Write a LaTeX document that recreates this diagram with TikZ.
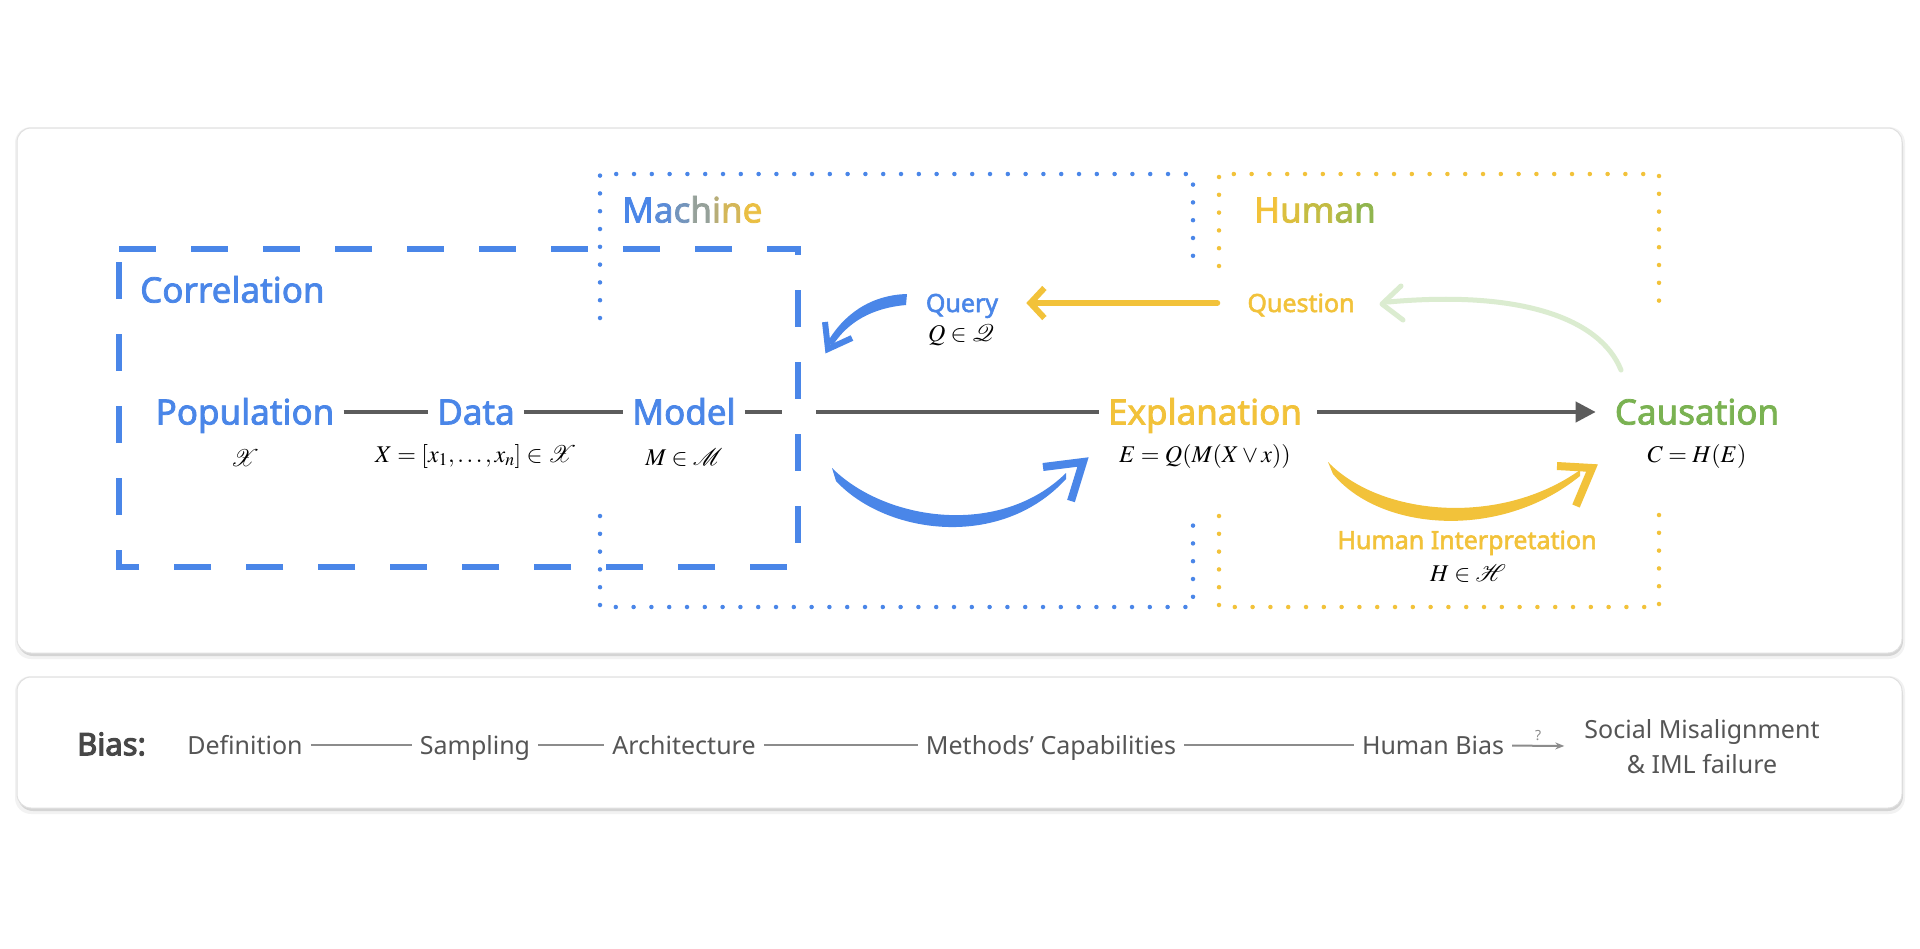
\documentclass[tikz,border=0pt]{standalone}
\usepackage{mathptmx}
\usepackage[no-math]{fontspec}
\setmainfont{Noto Sans}
\newfontfamily\labfont[FakeBold=2.2]{Noto Sans}
\newfontfamily\biasfont[FakeBold=3.5]{Noto Sans}
\usetikzlibrary{arrows.meta}
\definecolor{mblue}{RGB}{74,134,232}
\definecolor{myel}{RGB}{242,194,58}
\definecolor{mgreen}{RGB}{122,178,82}
\definecolor{lgreen}{RGB}{219,236,208}
\definecolor{lgray}{RGB}{92,92,92}
\definecolor{tgray}{RGB}{85,85,85}
\begin{document}
\begin{tikzpicture}[x=1pt,y=-1pt,
  big/.style={font={\labfont\fontsize{35}{40}\selectfont}, text height=25pt, text depth=0pt, inner xsep=9pt, inner ysep=2pt},
  small/.style={font={\labfont\fontsize{25}{30}\selectfont}, text height=18pt, text depth=0pt, inner sep=2pt},
  formula/.style={font={\fontsize{24}{27}\selectfont}, inner sep=2pt},
  glin/.style={draw=lgray, line width=4pt},
  dotline/.style={line width=4.5pt, line cap=round, dash pattern=on 0pt off 17.8pt},
  bt/.style={font={\fontsize{25}{30}\selectfont}, text=tgray, text height=18pt, text depth=0pt, inner xsep=8pt},
  bline/.style={draw=black!45, line width=2pt},
  card/.style={draw=black!12, line width=1pt, fill=white, rounded corners=14pt}
]
\useasboundingbox[fill=white] (0,0) rectangle (1920,948);

% cards with shadows
\fill[black, opacity=0.05, rounded corners=16pt] (15,127) rectangle (1905,659);
\fill[black, opacity=0.12, rounded corners=15pt] (18,131) rectangle (1903,656);
\draw[card] (17,128) rectangle (1902,653);
\fill[black, opacity=0.05, rounded corners=16pt] (15,676) rectangle (1905,814);
\fill[black, opacity=0.12, rounded corners=15pt] (18,680) rectangle (1903,811);
\draw[card] (17,677) rectangle (1902,808);

% dotted frames
\draw[dotline, mblue] (600,318) -- (600,174) -- (1193,174) -- (1193,266);
\draw[dotline, mblue] (600,516) -- (600,607) -- (1193,607) -- (1193,516);
\draw[dotline, myel] (1219,266) -- (1219,174) -- (1659,174) -- (1659,311);
\draw[dotline, myel] (1219,516) -- (1219,607) -- (1659,607) -- (1659,507);

% nodes
\node[big, text=mblue] (pop) at (245,412) {Population};
\node[big, text=mblue] (data) at (476,412) {Data};
\node[big, text=mblue] (model) at (684,412) {Model};
\node[big, text=myel] (expl) at (1205,412) {Explanation};
\node[big, text=mgreen] (caus) at (1697,412) {Causation};

\node[formula] (fpop) at (245,458) {$\mathcal{X}$};
\node[formula] (fdata) at (476,456) {$X = [x_1, \ldots, x_n] \in \mathcal{X}$};
\node[formula] (fmodel) at (684,458) {$M \in \mathcal{M}$};
\node[formula] (fexpl) at (1205,456) {$E = Q(M(X \vee x))$};
\node[formula] (fcaus) at (1697,456) {$C = H(E)$};

\node[small, text=mblue] (query) at (962,303) {Query};
\node[formula] (fquery) at (961,335) {$Q \in \mathcal{Q}$};
\node[small, text=myel] (question) at (1301,303) {Question};
\node[small, text=myel] (hint) at (1467,540) {Human Interpretation};
\node[formula] (fhint) at (1468,574) {$H \in \mathcal{H}$};

\node[big, text=mblue, anchor=west, inner xsep=0pt] (corr) at (140,290) {Correlation};
\node[big, anchor=west, inner xsep=0pt] (mach) at (622,210) {\textcolor{mblue}{M}\textcolor{myel!10!mblue}{a}\textcolor{myel!25!mblue}{c}\textcolor{myel!45!mblue}{h}\textcolor{myel!65!mblue}{i}\textcolor{myel!82!mblue}{n}\textcolor{myel!95!mblue}{e}};
\node[big, anchor=west, inner xsep=0pt] (hum) at (1254,210) {\textcolor{myel}{H}\textcolor{mgreen!18!myel}{u}\textcolor{mgreen!38!myel}{m}\textcolor{mgreen!60!myel}{a}\textcolor{mgreen!82!myel}{n}};

% main connectors
\draw[glin] (pop) -- (data);
\draw[glin] (data) -- (model);
\draw[glin] (model) -- (expl);
\fill[white] (782,404) rectangle (816,420);
\draw[glin, -{Triangle[length=20pt,width=20pt]}, shorten <=6pt, shorten >=10pt] (expl) -- (caus);

% correlation dashed frame
\draw[mblue, line width=6pt, dash pattern=on 37pt off 35pt] (119,249) -- (798,249) -- (798,567) -- (119,567) -- cycle;

% blue brush arrow (model -> explanation)
\coordinate (bt1) at (1083,462);
\fill[mblue] (832,468) .. controls (885,521) and (1000,538) .. (1066,473) -- (1066,479) .. controls (1000,551) and (885,534) .. (836,481) -- cycle;
\draw[mblue, line width=8pt] (1043,467) -- (bt1) -- (1071,501);

% yellow brush arrow (explanation -> causation)
\coordinate (yt1) at (1592,468);
\fill[myel] (1328,462) .. controls (1380,516) and (1500,527) .. (1580,470) -- (1580,476) .. controls (1500,541) and (1380,531) .. (1333,474) -- cycle;
\draw[myel, line width=8pt] (1557,466) -- (yt1) -- (1576,506);

% query arrow
\coordinate (qt1) at (828,349);
\fill[mblue] (907,294) .. controls (870,295) and (843,315) .. (827,343) -- (833,345) .. controls (848,322) and (872,308) .. (906,305) -- cycle;
\draw[mblue, line width=6pt] (825,322) -- (qt1) -- (852,338);

% question -> query
\draw[myel, line width=6pt, line cap=round, shorten <=28pt, shorten >=26pt, -{Straight Barb[length=14pt,width=30pt,line width=6pt]}] (question.west) -- (query.east);

% causation -> question (light green)
\coordinate (g0) at (1621,370);
\draw[lgreen, line width=5pt, line cap=round] (g0) .. controls (1600,318) and (1520,290) .. (1388,302);
\draw[lgreen, line width=5pt, line cap=round, line join=round] (1401,286) -- (1382,304) -- (1403,320);

% bias bar
\node[font={\biasfont\fontsize{31}{36}\selectfont}, text=black!72, anchor=west, inner sep=0pt] (bias) at (77,744) {Bias:};
\node[bt] (def) at (245,745) {Definition};
\node[bt] (samp) at (475,745) {Sampling};
\node[bt] (arch) at (684,745) {Architecture};
\node[bt] (meth) at (1051,745) {Methods’ Capabilities};
\node[bt] (hb) at (1433,745) {Human Bias};
\node[font={\fontsize{25}{35}\selectfont}, text=tgray, align=center, inner xsep=8pt] (soc) at (1702,747) {Social Misalignment\\ \& IML failure};
\draw[bline] (def) -- (samp);
\draw[bline] (samp) -- (arch);
\draw[bline] (arch) -- (meth);
\draw[bline] (meth) -- (hb);
\draw[bline, -{Stealth[length=9pt,width=7pt]}, shorten >=12pt] (hb) -- (soc) node[midway, above=1pt, font={\fontsize{14}{16}\selectfont}, text=black!45, xshift=-6pt] (qm) {?};
\end{tikzpicture}
\end{document}
